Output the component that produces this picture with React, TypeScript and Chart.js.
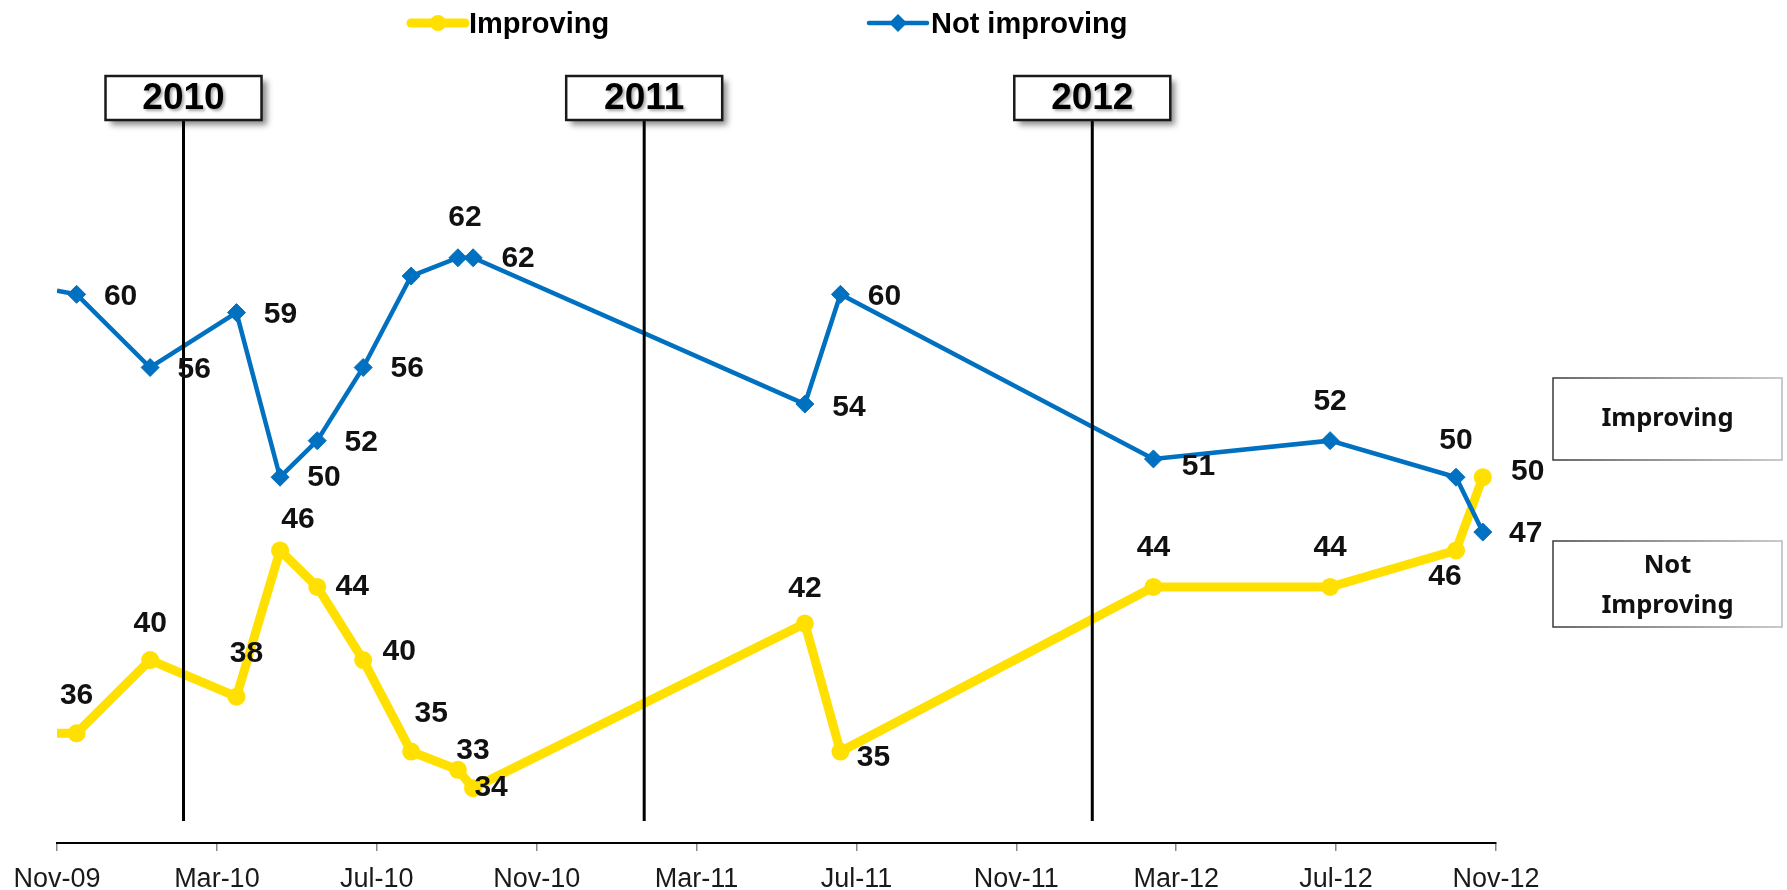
import React, { useEffect, useRef } from 'react';
import { Chart, registerables } from 'chart.js';

Chart.register(...registerables);

// ---- Data (months since Nov-09) ----
const months = [0, 0.49, 2.33, 4.49, 5.58, 6.51, 7.66, 8.86, 10.03, 10.41, 18.71, 19.6, 27.43, 31.85, 35.0, 35.67];
const improving = [36, 36, 40, 38, 46, 44, 40, 35, 34, 33, 42, 35, 44, 44, 46, 50];
const notImproving = [60.2, 60, 56, 59, 50, 52, 56, 61, 62, 62, 54, 60, 51, 52, 50, 47];
const improvingLabels = ['', '36', '40', '38', '46', '44', '40', '35', '33', '34', '42', '35', '44', '44', '46', '50'];
const notImprovingLabels = ['', '60', '56', '59', '50', '52', '56', '', '62', '62', '54', '60', '51', '52', '50', '47'];

const tickMonths = [0, 4, 8, 12, 16, 20, 24, 28, 32, 36];
const tickLabels = ['Nov-09', 'Mar-10', 'Jul-10', 'Nov-10', 'Mar-11', 'Jul-11', 'Nov-11', 'Mar-12', 'Jul-12', 'Nov-12'];

const yearMarkerMonths = [3.165, 14.69, 25.9];
const yearLabels = ['2010', '2011', '2012'];

const legendLabels = ['Improving', 'Not improving'];
const sideBoxLabels = [['Improving'], ['Not', 'Improving']];

// ---- Styles (label offsets in px) ----
const improvingLabelOffsets = [[0, 0], [0, -38], [0, -36], [10, -43], [18, -31], [35, 0], [36, -8], [20, -38], [15, -19], [18, 0], [0, -35], [33, 6], [0, -39], [0, -39], [-11, 26], [45, -5]];
const notImprovingLabelOffsets = [[0, 0], [44, 2], [44, 2], [44, 2], [44, 1], [44, 2], [44, 1], [0, 0], [7, -40], [45, 1], [44, 4], [44, 2], [45, 8], [0, -39], [0, -36], [43, 2]];

const YELLOW = '#FFE000';
const BLUE = '#0070C0';
const FONT = '"Liberation Sans", Arial, sans-serif';

const annotationPlugin = {
  id: 'annotations',
  afterDatasetsDraw(chart: any) {
    const ctx = chart.ctx;
    const xs = chart.scales.x;
    const ys = chart.scales.y;

    // year vertical lines + boxes
    yearMarkerMonths.forEach((m, i) => {
      const x = xs.getPixelForValue(m);
      const boxTop = 76, boxH = 44, boxW = 156;
      ctx.save();
      ctx.strokeStyle = '#000';
      ctx.lineWidth = 3;
      ctx.beginPath();
      ctx.moveTo(x, boxTop + boxH);
      ctx.lineTo(x, ys.getPixelForValue(31.2));
      ctx.stroke();

      ctx.shadowColor = 'rgba(0,0,0,0.45)';
      ctx.shadowBlur = 6;
      ctx.shadowOffsetX = 5;
      ctx.shadowOffsetY = 5;
      ctx.fillStyle = '#fff';
      ctx.fillRect(x - boxW / 2, boxTop, boxW, boxH);
      ctx.shadowColor = 'transparent';
      ctx.lineWidth = 2.5;
      ctx.strokeStyle = '#1a1a1a';
      ctx.strokeRect(x - boxW / 2, boxTop, boxW, boxH);

      ctx.shadowColor = 'rgba(0,0,0,0.35)';
      ctx.shadowBlur = 3;
      ctx.shadowOffsetX = 2;
      ctx.shadowOffsetY = 2;
      ctx.fillStyle = '#000';
      ctx.font = `bold 37px ${FONT}`;
      ctx.textAlign = 'center';
      ctx.textBaseline = 'middle';
      ctx.fillText(yearLabels[i], x, boxTop + boxH / 2 + 1);
      ctx.restore();
    });

    // data labels
    const drawLabels = (dsIndex: number, labels: string[], offsets: number[][]) => {
      const meta = chart.getDatasetMeta(dsIndex);
      ctx.save();
      ctx.font = `bold 30px ${FONT}`;
      ctx.fillStyle = '#111';
      ctx.textAlign = 'center';
      ctx.textBaseline = 'middle';
      meta.data.forEach((pt: any, i: number) => {
        if (!labels[i]) return;
        ctx.fillText(labels[i], pt.x + offsets[i][0], pt.y + offsets[i][1]);
      });
      ctx.restore();
    };
    drawLabels(0, notImprovingLabels, notImprovingLabelOffsets);
    drawLabels(1, improvingLabels, improvingLabelOffsets);
  },
  afterDraw(chart: any) {
    const ctx = chart.ctx;
    ctx.save();
    // legend
    const legendY = 23;
    ctx.strokeStyle = YELLOW;
    ctx.lineWidth = 9;
    ctx.lineCap = 'round';
    ctx.beginPath();
    ctx.moveTo(411, legendY);
    ctx.lineTo(465, legendY);
    ctx.stroke();
    ctx.fillStyle = YELLOW;
    ctx.beginPath();
    ctx.arc(438, legendY, 8, 0, Math.PI * 2);
    ctx.fill();
    ctx.strokeStyle = BLUE;
    ctx.lineWidth = 4.5;
    ctx.beginPath();
    ctx.moveTo(869, legendY);
    ctx.lineTo(927, legendY);
    ctx.stroke();
    ctx.fillStyle = BLUE;
    ctx.beginPath();
    ctx.moveTo(898 - 9, legendY);
    ctx.lineTo(898, legendY - 9);
    ctx.lineTo(898 + 9, legendY);
    ctx.lineTo(898, legendY + 9);
    ctx.closePath();
    ctx.fill();

    ctx.fillStyle = '#000';
    ctx.font = `bold 29px ${FONT}`;
    ctx.textAlign = 'left';
    ctx.textBaseline = 'alphabetic';
    ctx.fillText(legendLabels[0], 469, 33);
    ctx.fillText(legendLabels[1], 931, 33);

    // side boxes
    const boxes = [
      { x: 1553, y: 378, w: 229, h: 82 },
      { x: 1553, y: 541, w: 229, h: 86 },
    ];
    boxes.forEach((b, i) => {
      const g = ctx.createLinearGradient(b.x, 0, b.x + b.w, 0);
      g.addColorStop(0, '#3a3a3a');
      g.addColorStop(1, '#b8b8b8');
      ctx.fillStyle = '#fff';
      ctx.fillRect(b.x, b.y, b.w, b.h);
      ctx.strokeStyle = g;
      ctx.lineWidth = 1.5;
      ctx.strokeRect(b.x, b.y, b.w, b.h);
      ctx.fillStyle = '#111';
      ctx.font = `bold 25.5px "Noto Sans", "Open Sans", sans-serif`;
      ctx.textAlign = 'center';
      ctx.textBaseline = 'middle';
      const lines = sideBoxLabels[i];
      const lh = 40;
      const cy = b.y + b.h / 2 + (lines.length > 1 ? 2 : 0);
      lines.forEach((t, k) => {
        ctx.fillText(t, b.x + b.w / 2, cy + (k - (lines.length - 1) / 2) * lh);
      });
    });
    ctx.restore();
  },
};

export default function App() {
  const canvasRef = useRef<HTMLCanvasElement | null>(null);

  useEffect(() => {
    if (!canvasRef.current) return;
    const chart = new Chart(canvasRef.current, {
      type: 'line',
      data: {
        datasets: [
          {
            label: 'Not improving',
            data: months.map((m, i) => ({ x: m, y: notImproving[i] })),
            borderColor: BLUE,
            backgroundColor: BLUE,
            borderWidth: 4.5,
            pointStyle: 'rectRot',
            pointRadius: (c: any) => (c.dataIndex === 0 ? 0 : 9),
            pointBorderWidth: 1,
            pointBorderColor: BLUE,
            pointBackgroundColor: BLUE,
            tension: 0,
            order: 0,
          },
          {
            label: 'Improving',
            data: months.map((m, i) => ({ x: m, y: improving[i] })),
            borderColor: YELLOW,
            backgroundColor: YELLOW,
            borderWidth: 9,
            pointStyle: 'circle',
            pointRadius: (c: any) => (c.dataIndex === 0 ? 0 : 9),
            pointBorderWidth: 0,
            pointBackgroundColor: YELLOW,
            tension: 0,
            order: 1,
          },
        ],
      },
      options: {
        responsive: false,
        animation: false,
        layout: { padding: { left: 57, right: 291, top: 20, bottom: 0 } },
        plugins: {
          legend: { display: false },
          tooltip: { enabled: false },
          title: { display: false },
        },
        scales: {
          x: {
            type: 'linear',
            min: 0,
            max: 36,
            afterBuildTicks: (scale: any) => {
              scale.ticks = tickMonths.map((v) => ({ value: v }));
            },
            afterFit: (scale: any) => {
              scale.height = 47;
            },
            ticks: {
              autoSkip: false,
              maxRotation: 0,
              padding: 12,
              color: '#1a1a1a',
              font: { family: FONT, size: 27 },
              callback: (v: any) => {
                const idx = tickMonths.indexOf(Number(v));
                return idx >= 0 ? tickLabels[idx] : '';
              },
            },
            grid: {
              drawOnChartArea: false,
              drawTicks: true,
              tickLength: 8,
              color: '#888',
              lineWidth: 1.5,
            },
            border: { display: true, color: '#000', width: 2 },
          },
          y: {
            display: false,
            min: 30,
            max: 75,
          },
        },
      },
      plugins: [annotationPlugin],
    });
    return () => chart.destroy();
  }, []);

  return (
    <div style={{ position: 'absolute', left: 0, top: 0, width: 1787, height: 890, background: '#fff' }}>
      <canvas ref={canvasRef} width={1787} height={890} style={{ display: 'block' }} />
    </div>
  );
}
